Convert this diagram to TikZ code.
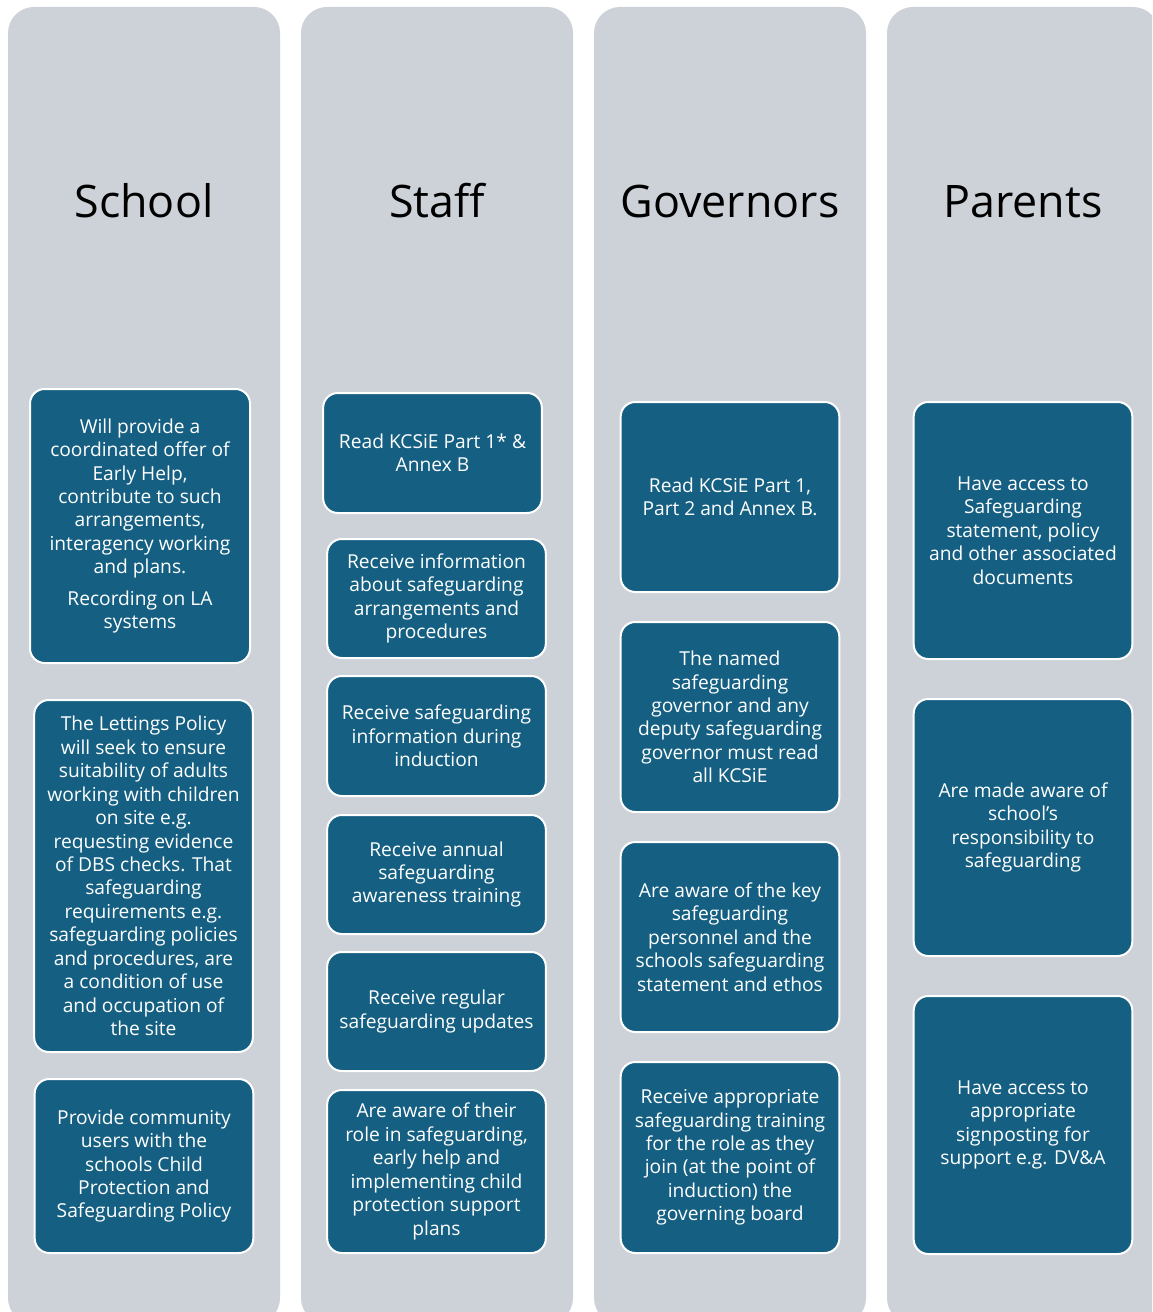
\documentclass[tikz,border=0pt]{standalone}
\usepackage{fontspec}
\setmainfont{Open Sans}
\usepackage{tikz}

\definecolor{colgray}{RGB}{205,209,216}
\definecolor{boxteal}{RGB}{21,96,130}

\tikzset{
  colbg/.style={fill=colgray, draw=none, rounded corners=19.5pt},
  head/.style={anchor=base, inner sep=0pt, text=black, font=\fontsize{33.6}{40}\selectfont},
  box/.style={rectangle, rounded corners=11pt, draw=white, line width=1.5pt, fill=boxteal,
    text=white, align=center, inner sep=0pt, minimum width=164pt,
    font=\fontsize{14.4}{17.6}\selectfont}
}

\begin{document}
\begin{tikzpicture}[x=0.75pt,y=0.75pt,yscale=-1,xscale=1]
\useasboundingbox (0,0) rectangle (1152,1312);
\clip (0,0) rectangle (1152,1312);
\fill[white] (0,0) rectangle (1152,1312);

% Columns
\fill[colbg] (8,7) rectangle (280,1324);
\fill[colbg] (301,7) rectangle (573,1324);
\fill[colbg] (594,7) rectangle (866,1324);
\fill[colbg] (887,7) rectangle (1159,1324);

% Headings
\node[head] (hsch) at (144,218) {School};
\node[head] (hstf) at (437,218) {Staff};
\node[head] (hgov) at (730,218) {Governors};
\node[head] (hpar) at (1023,218) {Parents};

% School
\node[box, minimum width=165pt, minimum height=205.5pt] (sch1) at (140,526) {Will provide a\\ coordinated offer of\\ Early Help,\\ contribute to such\\ arrangements,\\ interagency working\\ and plans.\\[6pt] Recording on LA\\ systems};
\node[box, minimum height=264pt] (sch2) at (143.5,876) {The Lettings Policy\\ will seek to ensure\\ suitability of adults\\ working with children\\ on site e.g.\\ requesting evidence\\ of DBS checks. That\\ safeguarding\\ requirements e.g.\\ safeguarding policies\\ and procedures, are\\ a condition of use\\ and occupation of\\ the site};
\node[box, minimum height=130.5pt] (sch3) at (144,1166) {Provide community\\ users with the\\ schools Child\\ Protection and\\ Safeguarding Policy};

% Staff
\node[box, minimum height=90pt] (stf1) at (432.5,453) {Read KCSiE Part 1* \&\\ Annex B};
\node[box, minimum height=89.25pt] (stf2) at (436.5,598.5) {Receive information\\ about safeguarding\\ arrangements and\\ procedures};
\node[box, minimum height=90pt] (stf3) at (436.5,736) {Receive safeguarding\\ information during\\ induction};
\node[box, minimum height=89.25pt] (stf4) at (436.5,874.5) {Receive annual\\ safeguarding\\ awareness training};
\node[box, minimum height=89.25pt] (stf5) at (436.5,1011.5) {Receive regular\\ safeguarding updates};
\node[box, minimum height=122.25pt] (stf6) at (436.5,1171.5) {Are aware of their\\ role in safeguarding,\\ early help and\\ implementing child\\ protection support\\ plans};

% Governors
\node[box, minimum height=142.5pt] (gov1) at (730,497) {Read KCSiE Part 1,\\ Part 2 and Annex B.};
\node[box, minimum height=142.5pt] (gov2) at (730,717) {The named\\ safeguarding\\ governor and any\\ deputy safeguarding\\ governor must read\\ all KCSiE};
\node[box, minimum height=142.5pt] (gov3) at (730,937) {Are aware of the key\\ safeguarding\\ personnel and the\\ schools safeguarding\\ statement and ethos};
\node[box, minimum height=143.25pt] (gov4) at (730,1157.5) {Receive appropriate\\ safeguarding training\\ for the role as they\\ join (at the point of\\ induction) the\\ governing board};

% Parents
\node[box, minimum height=192.75pt] (par1) at (1023,530.5) {Have access to\\ Safeguarding\\ statement, policy\\ and other associated\\ documents};
\node[box, minimum height=192.75pt] (par2) at (1023,827.5) {Are made aware of\\ school’s\\ responsibility to\\ safeguarding};
\node[box, minimum height=193.5pt] (par3) at (1023,1125) {Have access to\\ appropriate\\ signposting for\\ support e.g. DV\&A};

\end{tikzpicture}
\end{document}
